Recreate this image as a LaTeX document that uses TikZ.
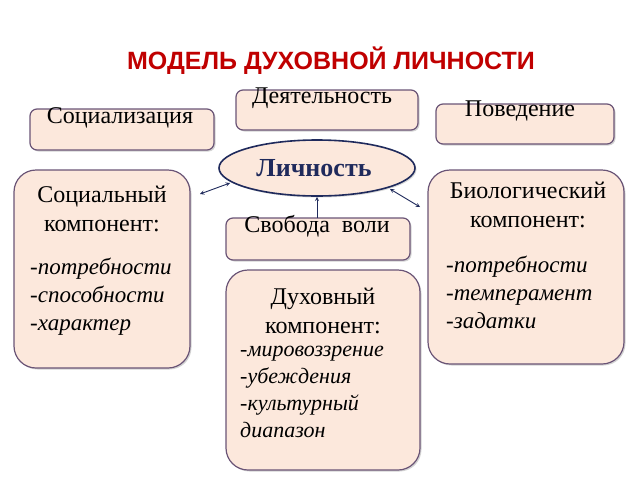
\documentclass[tikz,border=0pt]{standalone}
\usepackage{fontspec}
\setmainfont{Liberation Serif}
\newfontfamily\titlefont{Liberation Sans}
\usetikzlibrary{shadows,shapes.geometric}
\definecolor{boxfill}{HTML}{FCE8DC}
\definecolor{boxdraw}{HTML}{6A5476}
\definecolor{ttl}{HTML}{C00000}
\definecolor{ell}{HTML}{1F2A5C}
\tikzset{
  pbox/.style={draw=boxdraw,line width=1.2pt,fill=boxfill,rounded corners=7pt,drop shadow={opacity=0.35,shadow xshift=1.5pt,shadow yshift=-1.5pt}},
  bigbox/.style={pbox,rounded corners=22pt},
  lbl/.style={font=\fontsize{24}{29}\selectfont,inner sep=0pt},
  arr/.style={<->,>=stealth,draw=ell,line width=0.9pt}
}
\begin{document}
\begin{tikzpicture}[x=1pt,y=-1pt]
\useasboundingbox (0,0) rectangle (640,480);
\node[font=\titlefont\bfseries\fontsize{25}{28}\selectfont,text=ttl] (title) at (331,61) {МОДЕЛЬ ДУХОВНОЙ ЛИЧНОСТИ};
% boxes
\draw[pbox] (236,90) rectangle (418,130);
\node[lbl,anchor=north] (dey) at (322,88) {Деятельность};
\draw[pbox] (436,104) rectangle (614,144);
\node[lbl,anchor=north] (pov) at (520,101) {Поведение};
\draw[pbox] (30,109) rectangle (214,150);
\node[lbl,anchor=north] (soc) at (120,107) {Социализация};
\node[draw=ell,line width=1.6pt,fill=boxfill,ellipse,minimum width=196pt,minimum height=56pt,drop shadow={opacity=0.3,shadow xshift=1.5pt,shadow yshift=-1.5pt}] (lich) at (317,168) {};
\node[font=\bfseries\fontsize{26}{30}\selectfont,text=ell] at (314,168) {Личность};
\draw[bigbox] (14,170) rectangle (190,368);
\node[lbl,align=center,anchor=north] (sk) at (102,186) {Социальный\\компонент:};
\node[lbl,align=left,anchor=north west,font=\itshape\fontsize{23}{28}\selectfont] at (30,258) {-потребности\\-способности\\-характер};
\draw[bigbox] (428,170) rectangle (624,364);
\node[lbl,align=center,anchor=north] (bk) at (528,182) {Биологический\\компонент:};
\node[lbl,align=left,anchor=north west,font=\itshape\fontsize{23}{28}\selectfont] at (446,256) {-потребности\\-темперамент\\-задатки};
\draw[pbox] (226,218) rectangle (410,260);
\node[lbl,anchor=north] (svob) at (317,215) {Свобода\enspace воли};
\draw[bigbox] (226,270) rectangle (420,470);
\node[lbl,align=center,anchor=north] (dk) at (323,288) {Духовный\\компонент:};
\node[lbl,align=left,anchor=north west,font=\itshape\fontsize{22}{27}\selectfont] at (240,346) {-мировоззрение\\-убеждения\\-культурный\\диапазон};
% connectors
\coordinate (la) at (200,194);
\coordinate (lb) at (230,183);
\coordinate (ra) at (390,189);
\coordinate (rb) at (420,207);
\draw[arr] (la) -- (lb);
\draw[arr] (ra) -- (rb);
\draw[->,>=stealth,draw=ell,line width=0.9pt] (317,218) -- (lich.south);
\end{tikzpicture}
\end{document}
